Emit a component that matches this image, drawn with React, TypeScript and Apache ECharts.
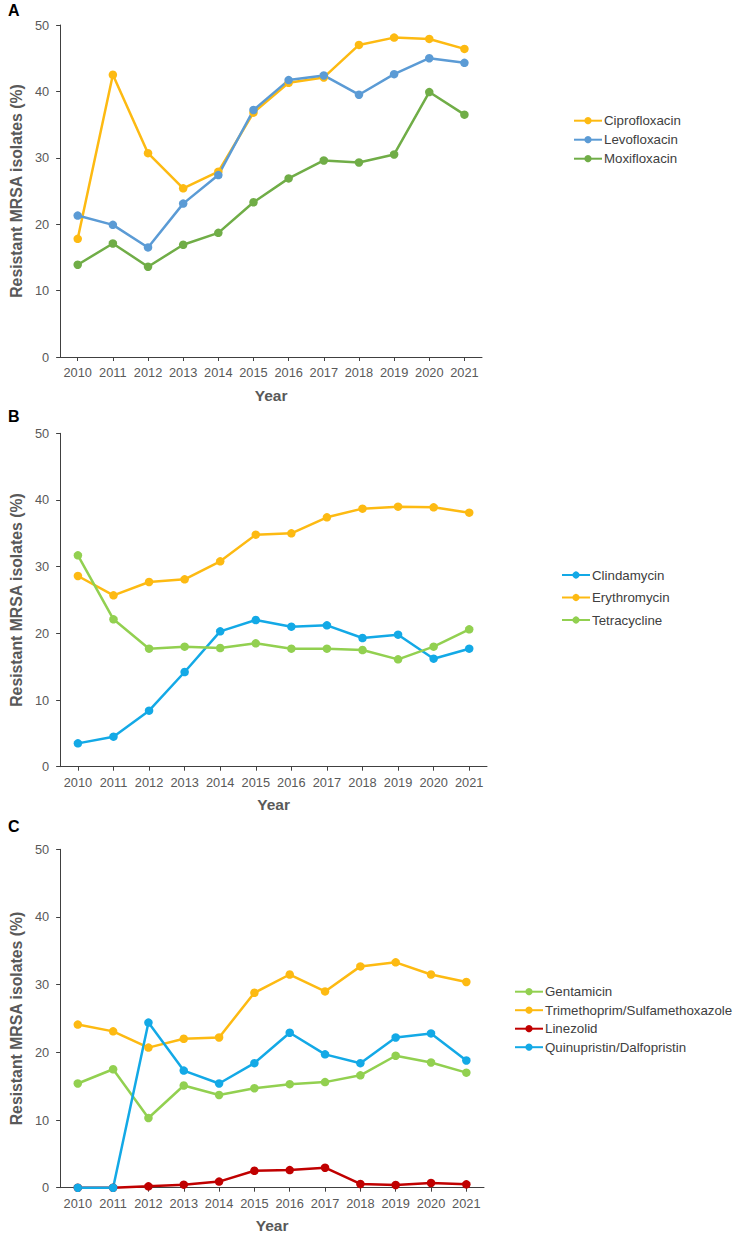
import React, { useEffect, useRef } from "react";
import * as echarts from "echarts";

const years = ["2010", "2011", "2012", "2013", "2014", "2015", "2016", "2017", "2018", "2019", "2020", "2021"];

// Panel A
const ciprofloxacin = [17.8, 42.5, 30.7, 25.4, 27.9, 36.8, 41.3, 42.1, 47.0, 48.1, 47.9, 46.4];
const levofloxacin = [21.3, 19.9, 16.5, 23.1, 27.4, 37.2, 41.7, 42.4, 39.5, 42.6, 45.0, 44.3];
const moxifloxacin = [13.9, 17.1, 13.6, 16.9, 18.7, 23.3, 26.9, 29.6, 29.3, 30.5, 39.9, 36.5];

// Panel B
const clindamycin = [3.5, 4.5, 8.4, 14.2, 20.3, 22.0, 21.0, 21.2, 19.3, 19.8, 16.2, 17.7];
const erythromycin = [28.6, 25.7, 27.7, 28.1, 30.8, 34.8, 35.0, 37.4, 38.7, 39.0, 38.9, 38.1];
const tetracycline = [31.7, 22.1, 17.7, 18.0, 17.8, 18.5, 17.7, 17.7, 17.5, 16.1, 18.0, 20.6];

// Panel C
const gentamicin = [15.4, 17.5, 10.3, 15.1, 13.7, 14.7, 15.3, 15.6, 16.6, 19.5, 18.5, 17.0];
const trimethoprim = [24.1, 23.1, 20.7, 22.0, 22.2, 28.8, 31.5, 29.0, 32.7, 33.3, 31.5, 30.4];
const linezolid = [0, 0, 0.2, 0.45, 0.9, 2.5, 2.6, 2.95, 0.55, 0.4, 0.7, 0.5];
const quinupristin = [0, 0, 24.4, 17.3, 15.4, 18.4, 22.9, 19.7, 18.4, 22.2, 22.8, 18.8];

const yTicks = { min: 0, max: 50, interval: 10 };

const FONT = "Liberation Sans, Arial, sans-serif";
const AXIS_COLOR = "#404040";
const LABEL_COLOR = "#595959";

function xAxis(gridIndex: number) {
  return {
    type: "category",
    gridIndex,
    data: years,
    boundaryGap: true,
    axisLine: { lineStyle: { color: AXIS_COLOR, width: 1 } },
    axisTick: { show: true, alignWithLabel: true, length: 4, lineStyle: { color: AXIS_COLOR } },
    axisLabel: { color: LABEL_COLOR, fontSize: 12.8, fontFamily: FONT, margin: 9, interval: 0 },
    name: "Year",
    nameLocation: "middle",
    nameGap: 30,
    nameTextStyle: { color: LABEL_COLOR, fontSize: 15.5, fontWeight: "bold", fontFamily: FONT },
  };
}

function yAxis(gridIndex: number) {
  return {
    type: "value",
    gridIndex,
    min: yTicks.min,
    max: yTicks.max,
    interval: yTicks.interval,
    axisLine: { show: true, lineStyle: { color: AXIS_COLOR, width: 1 } },
    axisTick: { show: true, length: 4, lineStyle: { color: AXIS_COLOR } },
    splitLine: { show: false },
    axisLabel: { color: LABEL_COLOR, fontSize: 12.8, fontFamily: FONT, margin: 11 },
    name: "Resistant MRSA isolates (%)",
    nameLocation: "middle",
    nameGap: 36,
    nameTextStyle: { color: LABEL_COLOR, fontSize: 15.8, fontWeight: "bold", fontFamily: FONT },
  };
}

function line(name: string, data: number[], color: string, idx: number) {
  return {
    name,
    type: "line",
    data,
    xAxisIndex: idx,
    yAxisIndex: idx,
    symbol: "circle",
    symbolSize: 8.5,
    showSymbol: true,
    lineStyle: { color, width: 2.5 },
    itemStyle: { color },
    z: 2,
  };
}

function legend(names: string[], left: number, top: number, itemGap: number) {
  return {
    data: names,
    orient: "vertical",
    left,
    top,
    itemWidth: 28,
    itemHeight: 9,
    itemGap,
    padding: 0,
    selectedMode: false,
    textStyle: { color: "#404040", fontSize: 13.3, fontFamily: FONT, lineHeight: 14, padding: [0, 0, 0, -3] },
  };
}

export default function App() {
  const ref = useRef<HTMLDivElement>(null);
  useEffect(() => {
    document.body.style.margin = "0";
    if (!ref.current) return;
    const chart = echarts.init(ref.current, undefined, { renderer: "svg" });
    const colors = {
      gold: "#FDBA12",
      blue: "#5B9BD5",
      green: "#70AD47",
      cyan: "#13A9E6",
      lime: "#92D050",
      red: "#C00000",
    };
    chart.setOption({
      animation: false,
      backgroundColor: "#ffffff",
      textStyle: { fontFamily: FONT },
      grid: [
        { left: 58.7, top: 25, width: 423.3, height: 332 },
        { left: 56.7, top: 433.3, width: 430.3, height: 333.4 },
        { left: 58.7, top: 849.3, width: 425.3, height: 338.4 },
      ],
      xAxis: [xAxis(0), xAxis(1), xAxis(2)],
      yAxis: [yAxis(0), yAxis(1), yAxis(2)],
      legend: [
        legend(["Ciprofloxacin", "Levofloxacin", "Moxifloxacin"], 573, 113.7, 5),
        legend(["Clindamycin", "Erythromycin", "Tetracycline"], 561, 568, 8.5),
        legend(["Gentamicin", "Trimethoprim/Sulfamethoxazole", "Linezolid", "Quinupristin/Dalfopristin"], 514, 984.7, 4.5),
      ],
      graphic: [
        { type: "text", left: 8, top: 2, style: { text: "A", fontSize: 16, fontWeight: "bold", fill: "#000", fontFamily: FONT } },
        { type: "text", left: 8, top: 408, style: { text: "B", fontSize: 16, fontWeight: "bold", fill: "#000", fontFamily: FONT } },
        { type: "text", left: 8, top: 818, style: { text: "C", fontSize: 16, fontWeight: "bold", fill: "#000", fontFamily: FONT } },
      ],
      series: [
        line("Ciprofloxacin", ciprofloxacin, colors.gold, 0),
        line("Levofloxacin", levofloxacin, colors.blue, 0),
        line("Moxifloxacin", moxifloxacin, colors.green, 0),
        line("Clindamycin", clindamycin, colors.cyan, 1),
        line("Erythromycin", erythromycin, colors.gold, 1),
        line("Tetracycline", tetracycline, colors.lime, 1),
        line("Gentamicin", gentamicin, colors.lime, 2),
        line("Trimethoprim/Sulfamethoxazole", trimethoprim, colors.gold, 2),
        line("Linezolid", linezolid, colors.red, 2),
        line("Quinupristin/Dalfopristin", quinupristin, colors.cyan, 2),
      ],
    });
    return () => chart.dispose();
  }, []);
  return <div ref={ref} style={{ width: 736, height: 1240 }} />;
}
